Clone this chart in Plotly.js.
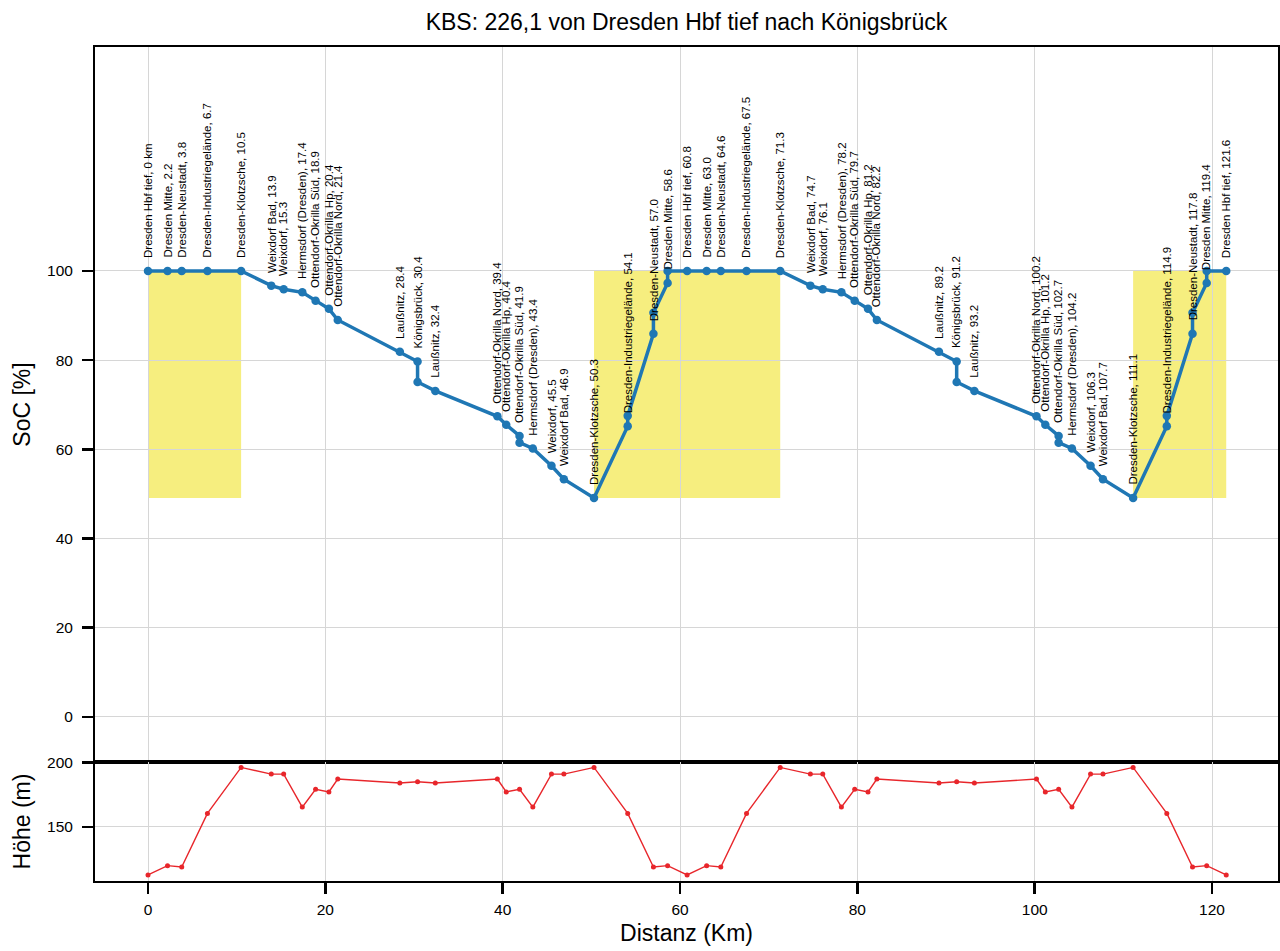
<!DOCTYPE html>
<html>
<head>
<meta charset="utf-8">
<script src="https://cdn.plot.ly/plotly-3.0.1.min.js"></script>
<style>html,body{margin:0;padding:0;background:#fff;}#chart{width:1280px;height:951px;}</style>
</head>
<body>
<div id="chart"></div>
<script>
const stationNames = [
  "Dresden Hbf tief", "Dresden Mitte", "Dresden-Neustadt", "Dresden-Industriegelände", "Dresden-Klotzsche",
  "Weixdorf Bad", "Weixdorf", "Hermsdorf (Dresden)", "Ottendorf-Okrilla Süd", "Ottendorf-Okrilla Hp",
  "Ottendorf-Okrilla Nord", "Laußnitz", "Königsbrück", "Laußnitz", "Ottendorf-Okrilla Nord",
  "Ottendorf-Okrilla Hp", "Ottendorf-Okrilla Süd", "Hermsdorf (Dresden)", "Weixdorf", "Weixdorf Bad",
  "Dresden-Klotzsche", "Dresden-Industriegelände", "Dresden-Neustadt", "Dresden Mitte", "Dresden Hbf tief",
  "Dresden Mitte", "Dresden-Neustadt", "Dresden-Industriegelände", "Dresden-Klotzsche",
  "Weixdorf Bad", "Weixdorf", "Hermsdorf (Dresden)", "Ottendorf-Okrilla Süd", "Ottendorf-Okrilla Hp",
  "Ottendorf-Okrilla Nord", "Laußnitz", "Königsbrück", "Laußnitz", "Ottendorf-Okrilla Nord",
  "Ottendorf-Okrilla Hp", "Ottendorf-Okrilla Süd", "Hermsdorf (Dresden)", "Weixdorf", "Weixdorf Bad",
  "Dresden-Klotzsche", "Dresden-Industriegelände", "Dresden-Neustadt", "Dresden Mitte", "Dresden Hbf tief"
];
const stationKm = [
  0, 2.2, 3.8, 6.7, 10.5, 13.9, 15.3, 17.4, 18.9, 20.4, 21.4, 28.4, 30.4, 32.4, 39.4, 40.4, 41.9, 43.4,
  45.5, 46.9, 50.3, 54.1, 57.0, 58.6, 60.8,
  63.0, 64.6, 67.5, 71.3, 74.7, 76.1, 78.2, 79.7, 81.2, 82.2, 89.2, 91.2, 93.2, 100.2, 101.2, 102.7, 104.2,
  106.3, 107.7, 111.1, 114.9, 117.8, 119.4, 121.6
];
const socArrival = [
  100, 100, 100, 100, 100, 96.7, 95.9, 95.2, 93.3, 91.5, 89.0, 81.9, 79.7, 73.1, 67.4, 65.5, 63.0, 60.2,
  56.3, 53.3, 49.1, 65.2, 85.9, 97.3, 100,
  100, 100, 100, 100, 96.7, 95.9, 95.2, 93.3, 91.5, 89.0, 81.9, 79.7, 73.1, 67.4, 65.5, 63.0, 60.2,
  56.3, 53.3, 49.1, 65.2, 85.9, 97.3, 100
];
const socDeparture = [
  100, 100, 100, 100, 100, 96.7, 95.9, 95.2, 93.3, 91.5, 89.0, 81.9, 75.1, 73.1, 67.4, 65.5, 61.5, 60.2,
  56.3, 53.3, 49.1, 67.5, 90.6, 100, 100,
  100, 100, 100, 100, 96.7, 95.9, 95.2, 93.3, 91.5, 89.0, 81.9, 75.1, 73.1, 67.4, 65.5, 61.5, 60.2,
  56.3, 53.3, 49.1, 67.5, 90.6, 100, 100
];
const altitude = [
  112.8, 120, 119, 160.5, 196.2, 191, 191, 165.4, 179.2, 177.2, 187.2, 184.1, 185.1, 184.1, 187.2, 177.2, 179.2, 165.4,
  191, 191, 196.2, 160.5, 119, 120, 112.8,
  120, 119, 160.5, 196.2, 191, 191, 165.4, 179.2, 177.2, 187.2, 184.1, 185.1, 184.1, 187.2, 177.2, 179.2, 165.4,
  191, 191, 196.2, 160.5, 119, 120, 112.8
];
const chargeStart = [0, 50.3, 111.1];
const chargeEnd = [10.5, 71.3, 121.6];
const chargeLow = 49.1;
const chargeHigh = 100;
const socTicks = [0, 20, 40, 60, 80, 100];
const altTicks = [150, 200];
const kmTicks = [0, 20, 40, 60, 80, 100, 120];

const FONT = "Liberation Sans, Arial, Helvetica, sans-serif";

// build SoC path
const socX = [], socY = [];
stationKm.forEach((km, i) => {
  socX.push(km); socY.push(socArrival[i]);
  if (socDeparture[i] !== socArrival[i]) { socX.push(km); socY.push(socDeparture[i]); }
});

const labels = stationNames.map((n, i) => n + ", " + (i === 0 ? "0 km" : stationKm[i].toFixed(1)));

const traces = [
  {
    x: socX, y: socY, xaxis: 'x', yaxis: 'y', type: 'scatter', mode: 'lines+markers',
    line: {color: '#1f77b4', width: 3.5}, marker: {color: '#1f77b4', size: 8.5},
    hoverinfo: 'skip', showlegend: false
  },
  {
    x: stationKm, y: altitude, xaxis: 'x2', yaxis: 'y2', type: 'scatter', mode: 'lines+markers',
    line: {color: '#e8262b', width: 1.4}, marker: {color: '#e8262b', size: 5},
    hoverinfo: 'skip', showlegend: false
  }
];

const shapes = chargeStart.map((s, i) => ({
  type: 'rect', xref: 'x', yref: 'y', x0: s, x1: chargeEnd[i], y0: chargeLow, y1: chargeHigh,
  fillcolor: 'rgba(238,222,0,0.5)', line: {width: 0}, layer: 'below'
}));

const annotations = labels.map((t, i) => ({
  x: stationKm[i], y: socArrival[i], xref: 'x', yref: 'y', text: t, showarrow: false,
  textangle: -90, xanchor: 'center', yanchor: 'bottom', yshift: 11,
  font: {family: FONT, size: 11.5, color: '#000'}
}));

const xRange = [-5.98, 127.44];
const axisCommon = {
  showline: true, mirror: true, linecolor: '#000', linewidth: 2,
  gridcolor: '#d6d6d6', gridwidth: 1, zeroline: false,
  tickfont: {family: FONT, size: 15.5, color: '#000'},
  tickcolor: '#000', tickwidth: 2.5, ticklen: 11
};

const layout = {
  width: 1280, height: 951,
  margin: {l: 95, r: 2, t: 47, b: 70},
  paper_bgcolor: '#fff', plot_bgcolor: '#fff',
  font: {family: FONT, color: '#000'},
  title: {text: 'KBS: 226,1 von Dresden Hbf tief nach Königsbrück', x: 0.5, xref: 'paper',
          y: 1 - 22 / 951, yref: 'container', yanchor: 'middle',
          font: {family: FONT, size: 23, color: '#000'}},
  xaxis: Object.assign({}, axisCommon, {
    domain: [0, 1], anchor: 'y', range: xRange, tickvals: kmTicks, showticklabels: false, ticks: ''
  }),
  yaxis: Object.assign({}, axisCommon, {
    domain: [0.1427, 1], anchor: 'x', range: [-10.1, 150.2], tickvals: socTicks, ticks: 'outside',
    ticklabelstandoff: 6,
    title: {text: 'SoC [%]', font: {family: FONT, size: 23, color: '#000'}, standoff: 10}
  }),
  xaxis2: Object.assign({}, axisCommon, {
    domain: [0, 1], anchor: 'y2', range: xRange, tickvals: kmTicks, ticks: 'outside',
    ticklabelstandoff: 2,
    title: {text: 'Distanz (Km)', font: {family: FONT, size: 23, color: '#000'}, standoff: 8}
  }),
  yaxis2: Object.assign({}, axisCommon, {
    domain: [0, 0.1427], anchor: 'x2', range: [108.1, 200.4], tickvals: altTicks, ticks: 'outside',
    ticklabelstandoff: 6,
    title: {text: 'Höhe (m)', font: {family: FONT, size: 23, color: '#000'}, standoff: 10}
  }),
  shapes: shapes,
  annotations: annotations
};

Plotly.newPlot('chart', traces, layout, {staticPlot: true, displayModeBar: false});
</script>
</body>
</html>
